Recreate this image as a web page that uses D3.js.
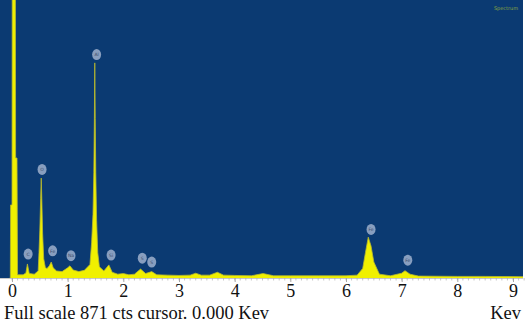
<!DOCTYPE html>
<html>
<head>
<meta charset="utf-8">
<script src="https://cdn.jsdelivr.net/npm/d3@7"></script>
<style>
  body { margin: 0; background: #fff; }
  svg { display: block; }
</style>
</head>
<body>
<div id="chart"></div>
<script>
// spectrum: energy (keV) and counts
const energy = [-0.04, -0.03, -0.025, -0.005, 0.0, 0.005, 0.06, 0.065, 0.09, 0.1,
  0.2, 0.25, 0.277, 0.31, 0.4, 0.47, 0.485, 0.5, 0.515, 0.525, 0.535, 0.55, 0.57, 0.6,
  0.63, 0.67, 0.705, 0.74, 0.8, 0.9, 1.0, 1.04, 1.1, 1.2, 1.3, 1.4, 1.43, 1.455,
  1.47, 1.48, 1.487, 1.495, 1.505, 1.52, 1.54, 1.57, 1.65, 1.74, 1.8, 1.9, 2.0,
  2.1, 2.2, 2.31, 2.4, 2.51, 2.6, 2.8, 3.0, 3.2, 3.3, 3.4, 3.55, 3.69, 3.8, 4.0,
  4.3, 4.51, 4.7, 5.0, 5.5, 6.0, 6.2, 6.3, 6.35, 6.4, 6.45, 6.5, 6.6, 6.8, 7.0,
  7.06, 7.15, 7.3, 8.0, 8.5, 9.2];
const counts = [0, 0, 229, 229, 229, 1100, 1100, 376, 376, 10,
  10, 16, 44, 14, 12, 22, 80, 150, 250, 313, 250, 140, 60, 32,
  30, 38, 50, 32, 22, 20, 32, 38, 25, 20, 24, 42, 110, 200,
  330, 500, 674, 500, 330, 180, 80, 35, 22, 41, 18, 12, 14,
  10, 12, 28, 14, 20, 10, 9, 8, 9, 15, 9, 9, 18, 9, 8,
  7, 14, 7, 7, 7, 7, 9, 30, 80, 128, 100, 50, 12, 7, 15,
  23, 12, 6, 5, 5, 4];

// peak markers
const peakNames = ["C", "O", "Fe", "Na", "Al", "Si", "S", "S", "Fe", "Fe"];
const peakEnergy = [0.29, 0.54, 0.73, 1.06, 1.52, 1.78, 2.34, 2.51, 6.45, 7.11];
const peakCounts = [75, 340, 85, 70, 700, 72, 62, 50, 152, 56];

const xTicks = [0, 1, 2, 3, 4, 5, 6, 7, 8, 9];
const fullScale = 871;

const width = 526, height = 324;
const plot = {left: 0, right: 523, top: 0, bottom: 278};

const svg = d3.select('#chart').append('svg')
  .attr('width', width)
  .attr('height', height);

const x = d3.scaleLinear()
  .domain([0, 9])
  .range([12, 513]);

const y = d3.scaleLinear()
  .domain([0, fullScale])
  .range([plot.bottom, plot.top]);

svg.append('rect')
  .attr('x', plot.left)
  .attr('y', plot.top)
  .attr('width', plot.right - plot.left)
  .attr('height', plot.bottom - plot.top)
  .attr('fill', '#0b3a72');

svg.append('clipPath').attr('id', 'clip')
  .append('rect')
  .attr('x', plot.left).attr('y', plot.top)
  .attr('width', plot.right - plot.left)
  .attr('height', plot.bottom - plot.top);

const data = energy.map((e, i) => ({e: e, c: counts[i]}));

const area = d3.area()
  .x(d => x(d.e))
  .y0(plot.bottom)
  .y1(d => y(d.c));

const line = d3.line()
  .x(d => x(d.e))
  .y(d => y(d.c));

const g = svg.append('g').attr('clip-path', 'url(#clip)');

g.append('path')
  .datum(data)
  .attr('d', area)
  .attr('fill', '#f0f000');

g.append('path')
  .datum(data)
  .attr('d', line)
  .attr('fill', 'none')
  .attr('stroke', '#b9b92e')
  .attr('stroke-width', 0.8);

// peak labels
const labels = svg.append('g');
peakNames.forEach((name, i) => {
  const cx = x(peakEnergy[i]), cy = y(peakCounts[i]);
  labels.append('ellipse')
    .attr('cx', cx).attr('cy', cy)
    .attr('rx', 4.5).attr('ry', 5.5)
    .attr('fill', '#9fb0cc')
    .attr('opacity', 0.85);
  labels.append('text')
    .attr('x', cx).attr('y', cy + 1.8)
    .attr('text-anchor', 'middle')
    .attr('font-family', 'DejaVu Sans')
    .attr('font-size', 4.5)
    .attr('fill', '#3c4c6a')
    .text(name);
});

svg.append('text')
  .attr('x', 506).attr('y', 10)
  .attr('text-anchor', 'middle')
  .attr('font-family', 'DejaVu Sans')
  .attr('font-size', 5)
  .attr('fill', '#8fa640')
  .text('Spectrum');

// axis
const minor = d3.range(0, 9.21, 0.1);
const axis = svg.append('g')
  .attr('transform', 'translate(0,' + plot.bottom + ')');

axis.append('line')
  .attr('x1', plot.left).attr('x2', plot.right)
  .attr('y1', 0.5).attr('y2', 0.5)
  .attr('stroke', '#c8c8c8');

axis.selectAll('.minor')
  .data(minor)
  .enter().append('line')
    .attr('class', 'minor')
    .attr('x1', d => x(d)).attr('x2', d => x(d))
    .attr('y1', 0).attr('y2', 2.5)
    .attr('stroke', '#b0b0b0')
    .attr('stroke-width', 0.7);

axis.call(g => g.append('g')
  .call(d3.axisBottom(x).tickValues(xTicks).tickSize(4).tickFormat(d3.format('d')))
  .call(a => a.select('.domain').remove())
  .call(a => a.selectAll('.tick line').attr('stroke', '#a8a8a8'))
  .call(a => a.selectAll('.tick text')
    .attr('y', 6)
    .attr('dy', '0.71em')
    .attr('fill', '#111')
    .attr('font-family', 'Liberation Serif')
    .attr('font-size', 18)));

svg.append('text')
  .attr('x', 4).attr('y', 319)
  .attr('font-family', 'Liberation Serif')
  .attr('font-size', 18.5)
  .attr('fill', '#111')
  .text('Full scale ' + fullScale + ' cts cursor. 0.000 Kev');

svg.append('text')
  .attr('x', 521).attr('y', 319)
  .attr('text-anchor', 'end')
  .attr('font-family', 'Liberation Serif')
  .attr('font-size', 18.5)
  .attr('fill', '#111')
  .text('Kev');
</script>
</body>
</html>
